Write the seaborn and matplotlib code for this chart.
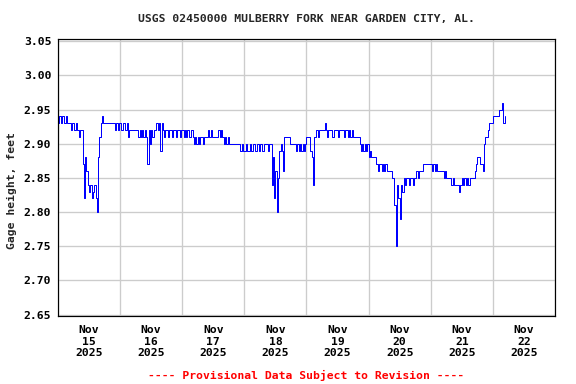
import numpy as np
import pandas as pd
import matplotlib
matplotlib.use('Agg')
import matplotlib.pyplot as plt
import matplotlib.dates as mdates
from matplotlib.ticker import FormatStrFormatter
import seaborn as sns

# gage height in hundredths of a foot, one value per 30 minutes
nov15 = [293, 294, 293, 294, 294, 293, 294, 293, 293, 293,
         292, 293, 292, 292, 293, 292, 291, 292, 292,
         287, 282, 288,
         286, 284, 283, 284, 282, 283, 284, 282, 280,
         288, 291, 293, 294,
         293, 293, 293, 293, 293, 293, 293, 293, 293,
         292, 293, 292, 293]
nov16 = [293, 292, 293, 293, 292, 293, 291, 292,
         292, 292, 292, 292, 292, 292,
         291, 292, 291, 292, 291, 292, 291,
         287, 292, 290,
         292, 291, 292, 292, 293, 292, 293, 289, 293,
         292, 291, 292, 292, 291, 292, 292, 291, 292, 292, 291, 292, 292, 291, 292]
nov17 = [292, 291, 292, 291, 292, 291, 291, 292,
         291, 290, 291, 290,
         291, 290, 291, 291, 290, 291, 291, 291,
         292, 291, 292, 291,
         291, 291, 291, 291, 292, 291, 292, 291,
         290, 291, 290, 291,
         290, 290, 290, 290, 290, 290, 290, 290, 290,
         289, 290, 289]
nov18 = [289, 290, 289, 289, 290, 289, 289, 290, 289, 289, 290, 289,
         290, 290, 289, 290, 290, 290, 289, 290, 290,
         284, 288, 282, 286, 280, 285, 289, 290, 289, 286,
         291, 291, 291, 291,
         290, 290, 290, 290, 290,
         289, 290, 289, 290, 289, 290, 289, 290]
nov19 = [291, 291, 291, 289, 288, 284,
         291, 292, 292, 291, 292, 292, 292, 292, 293,
         292, 291, 292,
         292, 292, 291, 292, 292, 292, 291, 292, 292, 292, 292, 291, 292, 292,
         291, 292, 291, 292,
         291, 291, 291, 291, 291, 290,
         289, 290, 289, 290, 289, 290]
nov20 = [288, 289, 288, 288, 288, 288,
         287, 286, 287, 287, 286,
         287, 286, 287, 286,
         286, 286, 286, 285,
         285, 281, 275, 284, 282, 279, 284, 283,
         285, 284, 285, 285, 284, 285, 285, 284, 285,
         285, 286, 285, 286, 286, 286,
         287, 287, 287, 287, 287, 287]
nov21 = [287, 286, 287, 286, 287,
         286, 286, 286, 286, 286,
         285, 286, 285, 285, 285, 285, 284,
         285, 284, 284, 284, 284, 283, 284, 285,
         284, 285, 284, 285, 284,
         285, 285, 285, 285,
         286, 287, 288, 288, 287, 287, 286,
         290, 291, 291, 292, 293, 293, 293]
nov22 = [294, 294, 294, 294, 294, 295, 295, 296, 293, 294]

title = 'USGS 02450000 MULBERRY FORK NEAR GARDEN CITY, AL.'
ylabel = 'Gage height, feet'
footer = '---- Provisional Data Subject to Revision ----'

stage = np.concatenate([nov15, nov16, nov17, nov18, nov19, nov20, nov21, nov22]) / 100
times = pd.date_range('2025-11-15 00:00', periods=len(stage), freq='30min')
df = pd.DataFrame({'time': times, 'gage': stage})

sns.set_theme(style='white')
plt.rcParams['font.family'] = ['DejaVu Sans Mono', 'DejaVu Sans']
plt.rcParams['font.weight'] = 'bold'

fig, ax = plt.subplots(figsize=(6, 4), dpi=96)
fig.subplots_adjust(left=0.1007, right=0.9635, bottom=0.177, top=0.898)

sns.lineplot(data=df, x='time', y='gage', ax=ax, color='#0000ff', linewidth=0.75,
             drawstyle='steps-post', estimator=None)

ax.set_xlim(pd.Timestamp('2025-11-15'), pd.Timestamp('2025-11-23'))
ax.set_ylim(2.648, 3.053)
ax.set_yticks(np.arange(2.65, 3.051, 0.05))
ax.yaxis.set_major_formatter(FormatStrFormatter('%.2f'))

ax.xaxis.set_major_locator(mdates.DayLocator())
ax.xaxis.set_major_formatter(plt.NullFormatter())
ax.xaxis.set_minor_locator(mdates.HourLocator(byhour=12))
ax.xaxis.set_minor_formatter(mdates.DateFormatter('%b\n%d\n%Y'))

ax.grid(which='major', axis='both', color='#cccccc', linewidth=1.0)
ax.tick_params(which='both', length=0, labelsize=8.5, colors='black')
ax.tick_params(axis='y', pad=5)
ax.tick_params(axis='x', which='minor', pad=7)
for lab in ax.get_xticklabels(minor=True):
    lab.set_linespacing(1.15)
    lab.set_fontweight('bold')
for lab in ax.get_yticklabels():
    lab.set_fontweight('bold')

for sp in ax.spines.values():
    sp.set_color('black')
    sp.set_linewidth(0.9)

ax.set_xlabel('')
ax.set_ylabel('')
fig.text(306 / 576, 1 - 19 / 384, title, ha='center', va='center',
         fontsize=8.5, fontweight='bold')
fig.text(12 / 576, 1 - 191 / 384, ylabel, ha='center', va='center',
         rotation=90, fontsize=8.5, fontweight='bold')
fig.text(306 / 576, 1 - 375 / 384, footer, ha='center', va='center',
         fontsize=8.5, fontweight='bold', color='red')

fig.savefig('out.png', dpi=96, facecolor='white')
